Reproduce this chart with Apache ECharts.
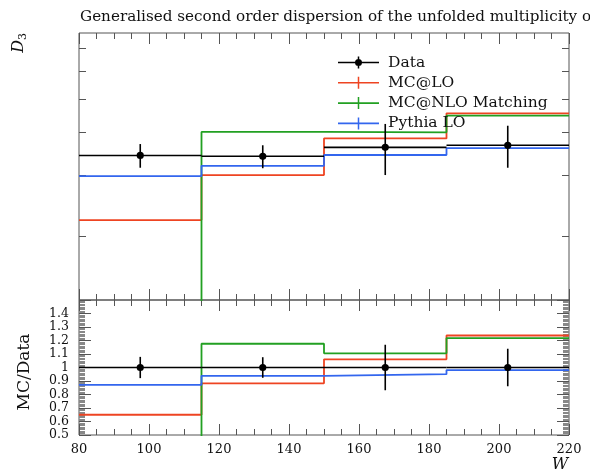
<!DOCTYPE html>
<html><head><meta charset="utf-8">
<script src="https://cdn.jsdelivr.net/npm/echarts@6/dist/echarts.min.js"></script>
<style>html,body{margin:0;padding:0;background:#fff}#c{width:590px;height:472px}</style>
</head><body><div id="c"></div>
<script>
// ---- data ----
const binEdges   = [80, 115, 150, 185, 220];
const dataValues = [3.43, 3.41, 3.62, 3.67];
const dataErrors = [0.27, 0.26, 0.61, 0.51];
const mcLO       = [2.23, 3.01, 3.84, 4.54];
const mcNLO      = [0.5, 4.01, 4.00, 4.47];
const pythiaLO   = [2.99, 3.20, 3.44, 3.60];
const topTicks   = [2, 3, 4, 5, 6, 7];
const xTickLabels = [80, 100, 120, 140, 160, 180, 200, 220];
const ratioTickLabels = [0.5, 0.6, 0.7, 0.8, 0.9, 1, 1.1, 1.2, 1.3, 1.4];

const SERIF = '"DejaVu Serif", "Liberation Serif", serif';
const colors = {data:'#000000', lo:'#ee4422', nlo:'#22a022', py:'#3366ee'};

function stepData(vals){
  const out = vals.map((v,i)=>[binEdges[i], v]);
  out.push([binEdges[binEdges.length-1], vals[vals.length-1]]);
  return out;
}
function ratioVals(vals){ return vals.map((v,i)=>v/dataValues[i]); }
function dataItems(ratio){
  return dataValues.map((v,i)=>{
    const lo = binEdges[i], hi = binEdges[i+1], c = (lo+hi)/2;
    return ratio ? [lo, hi, c, 1, dataErrors[i]/v] : [lo, hi, c, v, dataErrors[i]];
  });
}
function renderData(params, api){
  const lo=api.value(0), hi=api.value(1), c=api.value(2), v=api.value(3), e=api.value(4);
  const pL=api.coord([lo,v]), pR=api.coord([hi,v]);
  const pT=api.coord([c,v+e]), pB=api.coord([c,v-e]), pC=api.coord([c,v]);
  return {type:'group', children:[
    {type:'line', shape:{x1:pL[0],y1:pL[1],x2:pR[0],y2:pR[1]}, style:{stroke:'#000',lineWidth:1.6}},
    {type:'line', shape:{x1:pT[0],y1:pT[1],x2:pB[0],y2:pB[1]}, style:{stroke:'#000',lineWidth:1.6}},
    {type:'circle', shape:{cx:pC[0],cy:pC[1],r:3.6}, style:{fill:'#000'}}
  ]};
}

const GL = 79, GR = 21;
const topGrid = {left:GL, right:GR, top:33, height:267, show:true, borderColor:'#555', borderWidth:1};
const botGrid = {left:GL, right:GR, top:300, height:135, show:true, borderColor:'#555', borderWidth:1};

const xBase = (grid, pos, labels) => ({
  type:'value', gridIndex:grid, position:pos, min:80, max:220, interval:20,
  axisLine:{show:false}, splitLine:{show:false},
  axisTick:{show:true, inside:true, length:11, lineStyle:{color:'#555'}},
  minorTick:{show:true, splitNumber:4, length:6, lineStyle:{color:'#555'}},
  axisLabel: labels ? {show:true, margin:8, fontFamily:SERIF, fontSize:13, color:'#111',
    customValues:xTickLabels, hideOverlap:false, showMinLabel:true, showMaxLabel:true} : {show:false}
});
const yTop = (pos) => ({
  type:'log', gridIndex:0, position:pos, min:1.31, max:7.75, logBase:10,
  axisLine:{show:false}, splitLine:{show:false}, axisLabel:{show:false},
  axisTick:{show:true, inside:true, length:7, customValues:topTicks, lineStyle:{color:'#555'}},
  minorTick:{show:false}
});
const yBot = (pos, labels) => ({
  type:'value', gridIndex:1, position:pos, min:0.5, max:1.5, interval:0.1,
  axisLine:{show:false}, splitLine:{show:false},
  axisTick:{show:true, inside:true, length:12, lineStyle:{color:'#555'}},
  minorTick:{show:true, splitNumber:10, length:6, lineStyle:{color:'#888'}},
  axisLabel: labels ? {show:true, margin:10, fontFamily:SERIF, fontSize:12.5, color:'#111',
    customValues:ratioTickLabels, hideOverlap:false, showMinLabel:true, showMaxLabel:true} : {show:false}
});

function mcSeries(name, vals, color, ratio){
  return {
    name, type:'line', step:'end', xAxisIndex: ratio?2:0, yAxisIndex: ratio?2:0,
    data: stepData(ratio ? ratioVals(vals) : vals),
    showSymbol:false, symbol:'none', clip:true, z:2,
    lineStyle:{color, width:1.8}, itemStyle:{color}
  };
}
function dataSeries(ratio){
  return {
    name:'Data', type:'custom', xAxisIndex: ratio?2:0, yAxisIndex: ratio?2:0,
    data: dataItems(ratio), renderItem: renderData, z:5,
    encode:{x:[0,1], y:3}, itemStyle:{color:'#000'}
  };
}

const iconMC = 'path://M0,5.25h41v1.5h-41z M19.75,0.5h1.5v11h-1.5z';
const iconData = 'path://M0,5.25h41v1.5h-41z M19.75,0h1.5v12h-1.5z M17,6a3.5,3.5 0 1,1 7,0a3.5,3.5 0 1,1 -7,0z';

const option = {
  animation:false,
  backgroundColor:'#fff',
  title:{text:'Generalised second order dispersion of the unfolded multiplicity of charged particles',
    left:75, top:5, textStyle:{fontFamily:SERIF, fontSize:15.2, fontWeight:'normal', color:'#111'}},
  legend:{
    left:338, top:54.5, padding:0, orient:'vertical', itemWidth:41, itemHeight:12, itemGap:4.3,
    itemStyle:{borderWidth:0}, symbolKeepAspect:false,
    textStyle:{fontFamily:SERIF, fontSize:15.5, color:'#111', padding:[0,0,0,4]},
    data:[
      {name:'Data', icon:iconData},
      {name:'MC@LO', icon:iconMC},
      {name:'MC@NLO Matching', icon:iconMC},
      {name:'Pythia LO', icon:iconMC}
    ]
  },
  grid:[topGrid, botGrid],
  xAxis:[xBase(0,'bottom',false), xBase(0,'top',false), xBase(1,'bottom',true), xBase(1,'top',false)],
  yAxis:[yTop('left'), yTop('right'), yBot('left',true), yBot('right',false)],
  series:[
    mcSeries('MC@LO', mcLO, colors.lo, false),
    mcSeries('MC@NLO Matching', mcNLO, colors.nlo, false),
    mcSeries('Pythia LO', pythiaLO, colors.py, false),
    dataSeries(false),
    mcSeries('MC@LO', mcLO, colors.lo, true),
    mcSeries('MC@NLO Matching', mcNLO, colors.nlo, true),
    mcSeries('Pythia LO', pythiaLO, colors.py, true),
    dataSeries(true)
  ],
  graphic:[
    {type:'text', x:19, y:33, rotation:Math.PI/2,
      style:{text:'{d|D}{s|3}', textAlign:'right', textVerticalAlign:'middle',
        rich:{d:{fontFamily:SERIF, fontStyle:'italic', fontSize:16, fill:'#111'},
              s:{fontFamily:SERIF, fontSize:11, fill:'#111', padding:[8,0,0,0]}}}},
    {type:'text', x:25, y:372, rotation:Math.PI/2,
      style:{text:'MC/Data', textAlign:'center', textVerticalAlign:'middle',
        fontFamily:SERIF, fontSize:17, fill:'#111'}},
    {type:'text', x:560, y:465, style:{text:'W', textAlign:'center', textVerticalAlign:'middle',
        fontFamily:SERIF, fontStyle:'italic', fontSize:16, fill:'#111'}}
  ]
};
const chart = echarts.init(document.getElementById('c'), null, {renderer:'canvas'});
chart.setOption(option);
</script></body></html>
